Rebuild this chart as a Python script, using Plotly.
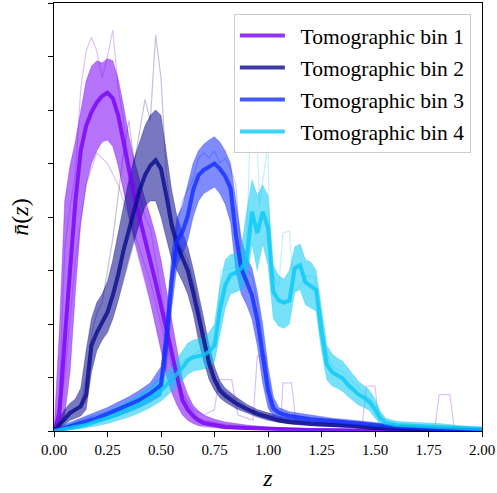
import plotly.graph_objects as go

# ---------------- data ----------------
labels = ["Tomographic bin 1", "Tomographic bin 2", "Tomographic bin 3", "Tomographic bin 4"]
colors = [(120, 0, 245), (10, 10, 140), (20, 45, 255), (10, 200, 245)]

z1 = [0, .025, .05, .075, .1, .125, .15, .175, .2, .225, .25, .275, .3, .325, .35, .375, .4, .425, .45, .475,
      .5, .525, .55, .575, .6, .625, .65, .675, .7, .75, .8, .9, 1.0, 1.2, 1.5, 2.0]
mean1 = [0, 0.15, 0.85, 1.50, 2.15, 2.62, 2.85, 2.98, 3.07, 3.13, 3.16, 3.11, 2.95, 2.70, 2.43, 2.19, 1.99, 1.80, 1.61, 1.39,
         1.17, 0.94, 0.74, 0.50, 0.29, 0.20, 0.14, 0.10, 0.075, 0.056, 0.037, 0.028, 0.019, 0.01, 0.005, 0.0]
hi1 = [0, 0.94, 2.15, 2.48, 2.71, 2.99, 3.27, 3.41, 3.46, 3.44, 3.48, 3.46, 3.29, 3.04, 2.76, 2.53, 2.34, 2.17, 2.01, 1.83,
       1.60, 1.32, 1.04, 0.76, 0.48, 0.34, 0.24, 0.19, 0.15, 0.11, 0.084, 0.056, 0.037, 0.02, 0.01, 0.0]
lo1 = [0, 0.02, 0.15, 0.55, 1.30, 1.95, 2.30, 2.50, 2.62, 2.70, 2.72, 2.66, 2.48, 2.25, 2.00, 1.78, 1.58, 1.40, 1.20, 0.98,
       0.75, 0.52, 0.36, 0.24, 0.15, 0.10, 0.07, 0.05, 0.04, 0.03, 0.02, 0.015, 0.01, 0.005, 0.0, 0.0]
spk1a = [0, 0.3, 1.7, 2.1, 2.4, 3.2, 3.55, 3.68, 3.55, 3.3, 3.5, 3.75, 3.2, 2.9, 2.5, 2.3, 2.2, 2.0, 1.9, 1.6,
         1.3, 1.0, 0.8, 0.55, 0.35, 0.25, 0.18, 0.12, 0.1, 0.08, 0.06, 0.04, 0.03, 0.02, 0.01, 0.0]
z1b = [0, 0.05, 0.1, 0.15, 0.2, 0.25, 0.3, 0.35, 0.4, 0.45, 0.5, 0.55, 0.6, 0.65, 0.7, 0.75, 0.77, 0.83, 0.86, 0.93,
       0.95, 0.99, 1.01, 1.06, 1.07, 1.11, 1.13, 1.44, 1.46, 1.5, 1.52, 1.78, 1.8, 1.85, 1.87, 2.0]
spk1b = [0, 0.5, 1.6, 2.3, 2.6, 2.5, 2.3, 2.0, 1.7, 1.4, 1.0, 0.6, 0.35, 0.2, 0.15, 0.2, 0.48, 0.48, 0.15, 0.1,
         0.7, 0.7, 0.15, 0.1, 0.45, 0.45, 0.1, 0.05, 0.42, 0.42, 0.05, 0.04, 0.34, 0.34, 0.04, 0.02]

z2 = [0, .025, .05, .075, .1, .125, .15, .175, .2, .225, .25, .275, .3, .325, .35, .375, .4, .425, .45, .475,
      .5, .525, .55, .575, .6, .625, .65, .675, .7, .725, .75, .775, .8, .85, .9, .95, 1.0, 1.05, 1.1, 1.2,
      1.3, 1.4, 1.5, 1.6, 1.8, 2.0]
mean2 = [0, 0.056, 0.12, 0.17, 0.20, 0.23, 0.34, 0.80, 0.92, 1.02, 1.11, 1.27, 1.46, 1.69, 1.88, 2.06, 2.25, 2.39, 2.48, 2.53,
         2.45, 2.20, 1.92, 1.74, 1.61, 1.50, 1.30, 1.07, 0.85, 0.63, 0.48, 0.38, 0.33, 0.26, 0.205, 0.16, 0.13, 0.10, 0.084, 0.065,
         0.056, 0.047, 0.028, 0.019, 0.01, 0.005]
hi2 = [0, 0.12, 0.2, 0.26, 0.3, 0.4, 0.75, 1.05, 1.2, 1.28, 1.4, 1.6, 1.85, 2.1, 2.35, 2.55, 2.7, 2.85, 2.95, 3.0,
       2.95, 2.6, 2.25, 2.0, 1.85, 1.72, 1.52, 1.3, 1.05, 0.8, 0.6, 0.47, 0.4, 0.32, 0.25, 0.2, 0.17, 0.14, 0.12, 0.09,
       0.08, 0.065, 0.045, 0.03, 0.02, 0.01]
lo2 = [0, 0.02, 0.06, 0.1, 0.12, 0.14, 0.2, 0.55, 0.75, 0.85, 0.92, 1.05, 1.22, 1.4, 1.6, 1.78, 1.95, 2.1, 2.15, 2.15,
       2.0, 1.8, 1.6, 1.5, 1.4, 1.28, 1.1, 0.85, 0.65, 0.48, 0.38, 0.31, 0.27, 0.21, 0.17, 0.13, 0.1, 0.08, 0.065, 0.05,
       0.04, 0.03, 0.015, 0.01, 0.005, 0.0]
spk2 = [0, 0.05, 0.1, 0.15, 0.2, 0.25, 0.5, 0.9, 1.1, 1.2, 1.5, 1.8, 2.2, 2.6, 2.9, 2.5, 2.8, 3.1, 2.9, 3.7,
        3.3, 2.4, 2.0, 1.8, 1.7, 1.6, 1.4, 1.2, 0.9, 0.7, 0.5, 0.42, 0.36, 0.3, 0.22, 0.18, 0.15, 0.12, 0.1, 0.08,
        0.07, 0.05, 0.03, 0.02, 0.01, 0.0]

z3 = [0, .05, .1, .15, .2, .25, .3, .35, .4, .45, .5, .525, .55, .575, .6, .625, .65, .675, .7, .725,
      .75, .775, .8, .825, .85, .875, .9, .925, .95, .975, 1.0, 1.025, 1.05, 1.1, 1.2, 1.3, 1.4, 1.5, 1.6, 1.8, 2.0]
mean3 = [0, 0.03, 0.056, 0.093, 0.12, 0.16, 0.20, 0.24, 0.29, 0.35, 0.43, 0.85, 1.41, 1.78, 1.86, 2.01, 2.25, 2.39, 2.44, 2.47,
         2.50, 2.45, 2.38, 2.27, 1.83, 1.52, 1.39, 1.27, 1.04, 0.71, 0.38, 0.21, 0.17, 0.14, 0.11, 0.093, 0.075, 0.056, 0.037, 0.019, 0.01]
hi3 = [0, 0.06, 0.1, 0.14, 0.18, 0.22, 0.27, 0.32, 0.38, 0.45, 0.6, 1.05, 1.65, 2.0, 2.1, 2.3, 2.5, 2.62, 2.68, 2.72,
       2.75, 2.7, 2.62, 2.5, 2.15, 1.8, 1.62, 1.52, 1.3, 1.0, 0.6, 0.32, 0.22, 0.18, 0.15, 0.12, 0.1, 0.08, 0.05, 0.03, 0.02]
lo3 = [0, 0.01, 0.03, 0.06, 0.08, 0.11, 0.14, 0.18, 0.22, 0.27, 0.33, 0.6, 1.15, 1.55, 1.65, 1.78, 2.0, 2.15, 2.22, 2.25,
       2.28, 2.22, 2.12, 1.95, 1.5, 1.28, 1.18, 1.05, 0.8, 0.45, 0.22, 0.14, 0.12, 0.1, 0.08, 0.07, 0.05, 0.035, 0.02, 0.01, 0.0]
spk3 = [0, 0.04, 0.08, 0.12, 0.15, 0.18, 0.22, 0.27, 0.33, 0.4, 0.5, 0.8, 1.3, 1.9, 2.15, 2.25, 2.35, 2.55, 2.6, 2.55,
        2.62, 2.5, 2.55, 2.45, 2.3, 1.6, 1.5, 1.45, 1.2, 0.85, 0.5, 0.25, 0.18, 0.15, 0.12, 0.1, 0.08, 0.06, 0.04, 0.02, 0.01]

z4 = [0, .05, .1, .15, .2, .25, .3, .35, .4, .45, .5, .55, .6, .625, .65, .675, .7, .725, .75, .775,
      .8, .825, .85, .875, .9, .925, .95, .975, 1.0, 1.025, 1.05, 1.075, 1.1, 1.125, 1.15, 1.175, 1.2, 1.225, 1.25, 1.275,
      1.3, 1.325, 1.35, 1.375, 1.4, 1.425, 1.45, 1.475, 1.5, 1.525, 1.55, 1.6, 1.7, 1.8, 1.9, 2.0]
mean4 = [0, 0.02, 0.037, 0.056, 0.093, 0.12, 0.16, 0.20, 0.25, 0.31, 0.38, 0.48, 0.59, 0.66, 0.69, 0.70, 0.71, 0.74, 0.80, 1.13,
         1.36, 1.46, 1.48, 1.52, 1.60, 2.05, 1.85, 2.05, 1.90, 1.30, 1.22, 1.20, 1.22, 1.52, 1.55, 1.39, 1.36, 1.32, 0.94, 0.62,
         0.55, 0.52, 0.49, 0.43, 0.38, 0.34, 0.31, 0.27, 0.20, 0.12, 0.075, 0.056, 0.047, 0.037, 0.028, 0.019]
hi4 = [0, 0.05, 0.08, 0.1, 0.14, 0.18, 0.23, 0.28, 0.34, 0.41, 0.5, 0.6, 0.75, 0.82, 0.85, 0.86, 0.88, 0.92, 1.0, 1.35,
       1.6, 1.65, 1.66, 1.7, 2.05, 2.35, 2.2, 2.3, 2.2, 1.55, 1.45, 1.42, 1.5, 1.72, 1.75, 1.6, 1.58, 1.5, 1.15, 0.8,
       0.72, 0.68, 0.65, 0.58, 0.52, 0.46, 0.42, 0.38, 0.3, 0.18, 0.12, 0.09, 0.08, 0.07, 0.05, 0.04]
lo4 = [0, 0.005, 0.015, 0.03, 0.05, 0.07, 0.1, 0.13, 0.17, 0.22, 0.28, 0.37, 0.47, 0.53, 0.56, 0.57, 0.58, 0.6, 0.65, 0.9,
       1.15, 1.28, 1.3, 1.32, 1.4, 1.75, 1.5, 1.75, 1.55, 1.05, 0.98, 0.96, 1.0, 1.3, 1.32, 1.18, 1.15, 1.12, 0.75, 0.48,
       0.42, 0.4, 0.37, 0.32, 0.28, 0.24, 0.22, 0.19, 0.12, 0.07, 0.045, 0.03, 0.025, 0.02, 0.015, 0.01]
z4b = [0, .1, .2, .3, .4, .5, .6, .7, .76, .78, .88, .9, .915, .95, .96, 1.0, 1.01, 1.05, 1.07, 1.1,
       1.12, 1.15, 1.17, 1.22, 1.24, 1.3, 1.35, 1.4, 1.45, 1.5, 1.55, 1.6, 1.7, 1.8, 2.0]
spk4 = [0, 0.03, 0.08, 0.15, 0.25, 0.42, 0.65, 0.78, 0.85, 1.5, 1.55, 1.7, 2.7, 2.72, 2.1, 2.69, 1.5, 1.35, 1.85, 1.87,
        1.3, 1.35, 1.45, 1.44, 0.9, 0.6, 0.55, 0.45, 0.35, 0.25, 0.1, 0.06, 0.05, 0.04, 0.02]

bins = [
    dict(z=z1, mean=mean1, hi=hi1, lo=lo1, spikes=[(z1, spk1a), (z1b, spk1b)]),
    dict(z=z2, mean=mean2, hi=hi2, lo=lo2, spikes=[(z2, spk2)]),
    dict(z=z3, mean=mean3, hi=hi3, lo=lo3, spikes=[(z3, spk3)]),
    dict(z=z4, mean=mean4, hi=hi4, lo=lo4, spikes=[(z4b, spk4)]),
]

xticks = [0.0, 0.25, 0.5, 0.75, 1.0, 1.25, 1.5, 1.75, 2.0]
yticks = [0.0, 0.5, 1.0, 1.5, 2.0, 2.5, 3.0, 3.5, 4.0]

# ---------------- figure ----------------
def rgba(c, a):
    return "rgba(%d,%d,%d,%.2f)" % (c[0], c[1], c[2], a)

FONT = "Liberation Serif"
fig = go.Figure()
for i, b in enumerate(bins):
    c = colors[i]
    fig.add_trace(go.Scatter(x=b["z"] + b["z"][::-1], y=b["hi"] + b["lo"][::-1], fill="toself",
                             fillcolor=rgba(c, 0.55), line=dict(width=0), mode="lines",
                             showlegend=False, hoverinfo="skip"))
    for (zz, yy) in b["spikes"]:
        fig.add_trace(go.Scatter(x=zz, y=yy, mode="lines", line=dict(color=rgba(c, 0.25), width=1.2),
                                 showlegend=False, hoverinfo="skip"))
    fig.add_trace(go.Scatter(x=b["z"], y=b["hi"], mode="lines", line=dict(color=rgba(c, 0.3), width=1),
                             showlegend=False, hoverinfo="skip"))
    fig.add_trace(go.Scatter(x=b["z"], y=b["lo"], mode="lines", line=dict(color=rgba(c, 0.3), width=1),
                             showlegend=False, hoverinfo="skip"))
for i, b in enumerate(bins):
    c = colors[i]
    fig.add_trace(go.Scatter(x=b["z"], y=b["mean"], mode="lines", name="\u00a0\u00a0" + labels[i],
                             legendgroup=labels[i], line=dict(color=rgba(c, 0.8), width=4)))

fig.update_layout(
    width=497, height=493,
    margin=dict(l=54, r=13, t=2, b=62),
    paper_bgcolor="white", plot_bgcolor="white",
    font=dict(family=FONT, color="black", size=15),
    legend=dict(x=0.974, y=0.974, xanchor="right", yanchor="top",
                bgcolor="rgba(255,255,255,0.85)", bordercolor="#cccccc", borderwidth=1,
                font=dict(family=FONT, size=21.5), traceorder="grouped", tracegroupgap=1,
                itemwidth=45),
    showlegend=True,
)
fig.update_xaxes(range=[0, 2], tickvals=xticks, ticktext=["%.2f" % t for t in xticks],
                 ticklabeloverflow="allow",
                 showgrid=False, zeroline=False, showline=True, linecolor="black", linewidth=1.3, mirror=True,
                 ticks="outside", ticklen=5, tickwidth=1.2, tickcolor="black",
                 tickfont=dict(family=FONT, size=15),
                 title=dict(text="<i>z</i>", font=dict(family=FONT, size=24), standoff=12))
fig.update_yaxes(range=[0, 4], tickvals=yticks, showticklabels=False,
                 showgrid=False, zeroline=False, showline=True, linecolor="black", linewidth=1.3, mirror=True,
                 ticks="outside", ticklen=5, tickwidth=1.2, tickcolor="black",
                 title=dict(text="<i>n\u0304</i>(<i>z</i>)", font=dict(family=FONT, size=24), standoff=12))

fig.write_html("out.html")
